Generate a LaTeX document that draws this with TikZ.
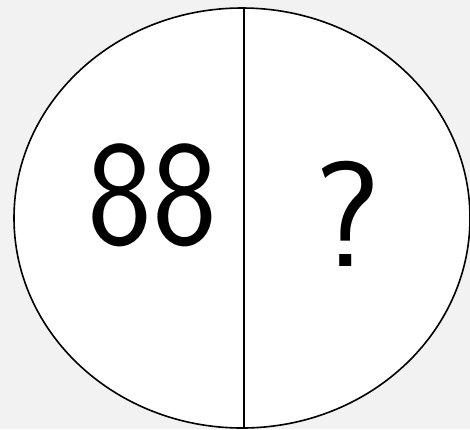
\documentclass[tikz,border=0pt]{standalone}
\usepackage{tikz}
\usetikzlibrary{shapes.geometric,positioning}
\definecolor{paperbg}{RGB}{242,242,242}

\begin{document}
\begin{tikzpicture}[
  x=1pt,y=-1pt,
  oval/.style={ellipse,draw,line width=1.6pt,fill=white,minimum width=456pt,minimum height=420pt,inner sep=0pt},
  hand/.style={font=\fontsize{150}{150}\selectfont\sffamily,inner sep=0pt}
]
\fill[paperbg] (0,0) rectangle (470,429);
\useasboundingbox (0,0) rectangle (470,429);
\node[oval] (disc) at (242,218) {};
\coordinate (cuttop) at (244,8);
\coordinate (cutbot) at (244,429);
\draw[line width=1.6pt] (cuttop) -- (cutbot);
\node[hand,xscale=0.92] (left) at (152,195) {88};
\node[hand] (right) at (348,214) {?};
\end{tikzpicture}
\end{document}
